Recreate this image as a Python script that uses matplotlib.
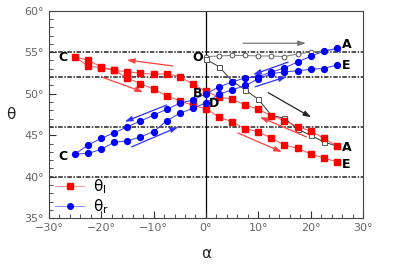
import matplotlib
matplotlib.use("Agg")
import matplotlib.pyplot as plt
import numpy as np

# ---- data (degrees) ----
alpha_pos = [0, 2.5, 5, 7.5, 10, 12.5, 15, 17.5, 20, 22.5, 25]
alpha_neg = [0, -2.5, -5, -7.5, -10, -12.5, -15, -17.5, -20, -22.5, -25]

# red (theta_l) branches
red_upper_right = [50.3, 49.6, 49.33, 48.65, 48.1, 47.35, 46.75, 46.05, 45.5, 44.65, 43.7]   # A -> B (listed 0..25)
red_upper_left = [50.3, 51.15, 52.05, 52.4, 52.35, 52.45, 52.65, 52.8, 53.2, 54.05, 54.4]    # B -> C (0..-25)
red_lower_left = [48.2, 48.6, 49.15, 49.75, 50.55, 51.2, 51.9, 52.8, 53.15, 53.3, 54.4]      # C -> D (listed 0..-25)
red_lower_right = [48.2, 47.2, 46.6, 45.8, 45.4, 44.65, 43.8, 43.45, 42.73, 42.27, 41.8]     # D -> E (0..25)

# blue (theta_r) branches
blue_upper_right = [50.0, 50.82, 51.4, 51.92, 52.05, 52.6, 53.1, 53.82, 54.5, 55.12, 55.45]
blue_upper_left = [50.0, 49.24, 48.84, 48.12, 47.43, 46.71, 46.02, 45.3, 44.63, 43.82, 42.74]
blue_lower_left = [48.9, 48.24, 47.64, 46.75, 45.42, 44.82, 44.3, 44.18, 43.3, 42.82, 42.74]
blue_lower_right = [48.9, 49.96, 50.45, 51.0, 51.78, 52.4, 52.65, 52.75, 52.94, 53.03, 53.45]

# initial path O -> A (gray)
gray_circles = [54.47, 54.54, 54.6, 54.6, 54.54, 54.54, 54.47, 54.78, 55.02, 55.14, 55.42]
gray_squares = [54.14, 53.25, 51.53, 50.45, 49.33, 47.4, 47.04, 45.75, 44.98, 44.2, 43.7]

hlines = [55, 52, 46, 40]
xticks = [-30, -20, -10, 0, 10, 20, 30]
yticks = [35, 40, 45, 50, 55, 60]


def loop(ur, ul, ll, lr):
    xs = alpha_pos[::-1] + alpha_neg[1:] + alpha_neg[::-1][1:] + alpha_pos[1:]
    ys = ur[::-1] + ul[1:] + ll[::-1][1:] + lr[1:]
    return xs, ys


fig = plt.figure(figsize=(4.07, 2.65), dpi=100)
ax = fig.add_axes([0.120, 0.176, 0.772, 0.784])

tick_color = "#666666"
for h in hlines:
    ax.axhline(h, color="#222222", lw=1.1, dashes=(3, 1, 1, 1), zorder=1)
ax.axvline(0, color="black", lw=0.9, zorder=1)

# gray path
ax.plot(alpha_pos, gray_circles, color="#777777", lw=0.7, marker="o", ms=3.4,
        mfc="white", mec="#555555", mew=0.7, zorder=2)
ax.plot(alpha_pos, gray_squares, color="#333333", lw=0.7, marker="s", ms=3.6,
        mfc="white", mec="#555555", mew=0.7, zorder=2)

rx, ry = loop(red_upper_right, red_upper_left, red_lower_left, red_lower_right)
ax.plot(rx, ry, color="#ff5050", lw=0.7, ls="-", marker="s", ms=4.2,
        mfc="#ff0000", mec="#ff0000", zorder=3)
bx, by = loop(blue_upper_right, blue_upper_left, blue_lower_left, blue_lower_right)
ax.plot(bx, by, color="#3a3aff", lw=0.7, ls="-", marker="o", ms=4.2,
        mfc="#0000ff", mec="#0000ff", zorder=4)

# legend proxies (dotted line style as in the reference legend)
h_red, = ax.plot([], [], color="#ff5050", lw=0.8, ls=(0, (1, 0.8)), marker="s", ms=4,
                 mfc="#ff0000", mec="#ff0000", label=r"θ$_{\mathregular{l}}$")
h_blue, = ax.plot([], [], color="#3a3aff", lw=0.8, ls=(0, (1, 0.8)), marker="o", ms=4,
                  mfc="#0000ff", mec="#0000ff", label=r"θ$_{\mathregular{r}}$")

# arrows
def arrow(x0, y0, x1, y1, c):
    ax.annotate("", xy=(x1, y1), xytext=(x0, y0),
                arrowprops=dict(arrowstyle="-|>,head_length=0.45,head_width=0.15",
                                color=c, lw=0.9, shrinkA=0, shrinkB=0), zorder=5)

arrow(7.1, 56.07, 19.1, 56.07, "#777777")
arrow(11.9, 50.12, 20.1, 47.16, "#222222")
arrow(-6.3, 53.34, -15.1, 54.06, "#ff4040")
arrow(-19.9, 52.0, -12.0, 50.2, "#ff4040")
arrow(19.2, 44.8, 10.3, 47.2, "#ff4040")
arrow(6.1, 45.27, 14.5, 42.98, "#ff4040")
arrow(-7.5, 48.64, -15.5, 46.63, "#3030ff")
arrow(-14.2, 43.6, -5.3, 46.0, "#3030ff")
arrow(15.7, 53.8, 9.0, 52.3, "#3030ff")
arrow(9.4, 50.84, 15.4, 52.05, "#3030ff")

# point labels
lab = dict(fontsize=9, fontweight="bold", color="black", va="center", zorder=6)
ax.text(-26.4, 54.3, "C", ha="right", **lab)
ax.text(-26.4, 42.45, "C", ha="right", **lab)
ax.text(-0.6, 54.4, "O", ha="right", **lab)
ax.text(-0.6, 50.0, "B", ha="right", **lab)
ax.text(0.6, 48.8, "D", ha="left", **lab)
ax.text(26.0, 55.9, "A", ha="left", **lab)
ax.text(26.0, 53.4, "E", ha="left", **lab)
ax.text(26.0, 43.5, "A", ha="left", **lab)
ax.text(26.0, 41.5, "E", ha="left", **lab)

ax.set_xlim(-30, 30)
ax.set_ylim(35, 60)
ax.set_xticks(xticks)
ax.set_xticklabels([f"{'−' if t < 0 else ''}{abs(t)}°" for t in xticks])
ax.set_yticks(yticks)
ax.set_yticklabels([f"{t}°" for t in yticks])
ax.set_xticks(np.arange(-30, 31, 2), minor=True)
ax.set_yticks(np.arange(35, 61, 1), minor=True)
ax.tick_params(axis="both", which="both", direction="in", colors="#333333",
               labelcolor=tick_color, labelsize=8, top=False, right=False)
ax.tick_params(which="major", length=5, width=0.8)
ax.tick_params(which="minor", length=3, width=0.6)
for s in ax.spines.values():
    s.set_color("#444444")
    s.set_linewidth(0.8)

ax.set_xlabel("α", fontsize=11, color="#222222", labelpad=9)
ax.set_ylabel("θ", fontsize=11, color="#222222", rotation=0, labelpad=10, va="center")

leg = ax.legend(handles=[h_red, h_blue], loc="lower left", frameon=False, fontsize=11,
                handlelength=2.0, borderaxespad=0.0, borderpad=0.15, labelspacing=0.1,
                handletextpad=0.5, bbox_to_anchor=(0.012, 0.0))

fig.savefig("out.png", dpi=100)
